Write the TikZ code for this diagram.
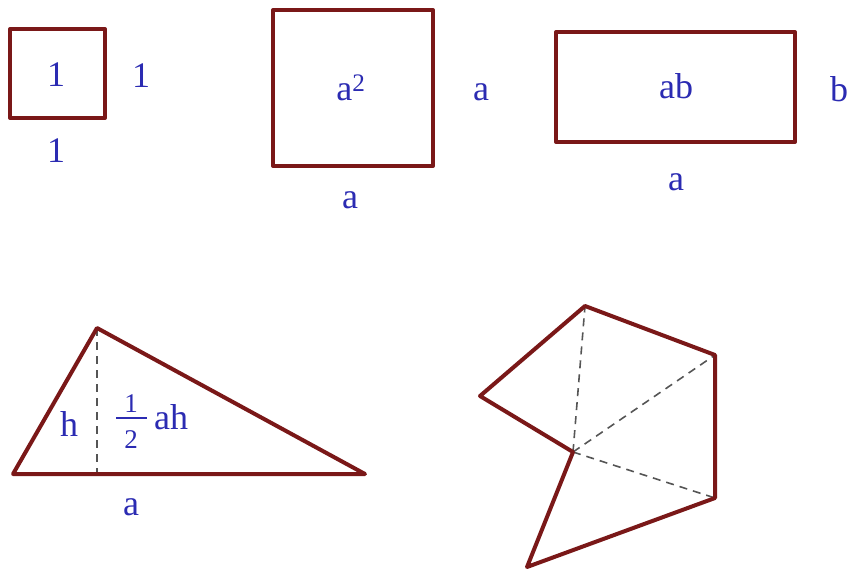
\documentclass[tikz,border=0pt]{standalone}
\usepackage{fontspec}
\setmainfont{Liberation Serif}
\usepackage{tikz}
\definecolor{wine}{HTML}{7A1818}
\definecolor{inkblue}{HTML}{2B2BB2}
\definecolor{guidegray}{HTML}{555555}

\begin{document}
\begin{tikzpicture}[x=1pt,y=-1pt,
  outline/.style={draw=wine, line width=4pt, line join=round, line cap=round},
  guide/.style={draw=guidegray, dash pattern=on 8pt off 6pt, line width=1.6pt},
  small digit/.style={font=\fontsize{27}{29}\selectfont},
  every node/.style={text=inkblue, font=\fontsize{36}{38}\selectfont, inner sep=0pt}]
\useasboundingbox (0,0) rectangle (851,573);
% unit square
\draw[outline] (10,29) rectangle (105,118);
\node (one) at (56,75) {1};
\node (oneside) at (141,76) {1};
\node (onebase) at (56,151) {1};
% square a^2
\draw[outline] (273,10) rectangle (433,166);
\node (sq) at (351,88) {a\textsuperscript{2}};
\node (sqside) at (481,92) {a};
\node (sqbase) at (350,200) {a};
% rectangle ab
\draw[outline] (556,32) rectangle (795,142);
\node (rect) at (676,86) {ab};
\node (rectside) at (839,89) {b};
\node (rectbase) at (676,182) {a};
% triangle
\coordinate (tl) at (13,474);
\coordinate (tt) at (97,328);
\coordinate (tr) at (365,474);
\coordinate (tf) at (tt |- tl);
\draw[guide] (tt) -- (tf);
\draw[outline] (tl) -- (tt) -- (tr) -- cycle;
\node (height) at (69,424) {h};
\node[small digit] (num) at (131,404) {1};
\node[small digit] (den) at (131,440) {2};
\draw[inkblue, line width=1.8pt] (116,418) -- (147,418);
\node[anchor=base west] (area) at (154,429) {ah};
\node (tbase) at (131,507) {a};
% polygon split into triangles
\coordinate (p1) at (585,306);
\coordinate (p2) at (715,355);
\coordinate (p3) at (715,498);
\coordinate (p4) at (527,567);
\coordinate (p5) at (573,452);
\coordinate (p6) at (480,396);
\foreach \q in {p1,p2,p3} \draw[guide] (p5) -- (\q);
\draw[outline] (p1) -- (p2) -- (p3) -- (p4) -- (p5) -- (p6) -- cycle;
\end{tikzpicture}
\end{document}
